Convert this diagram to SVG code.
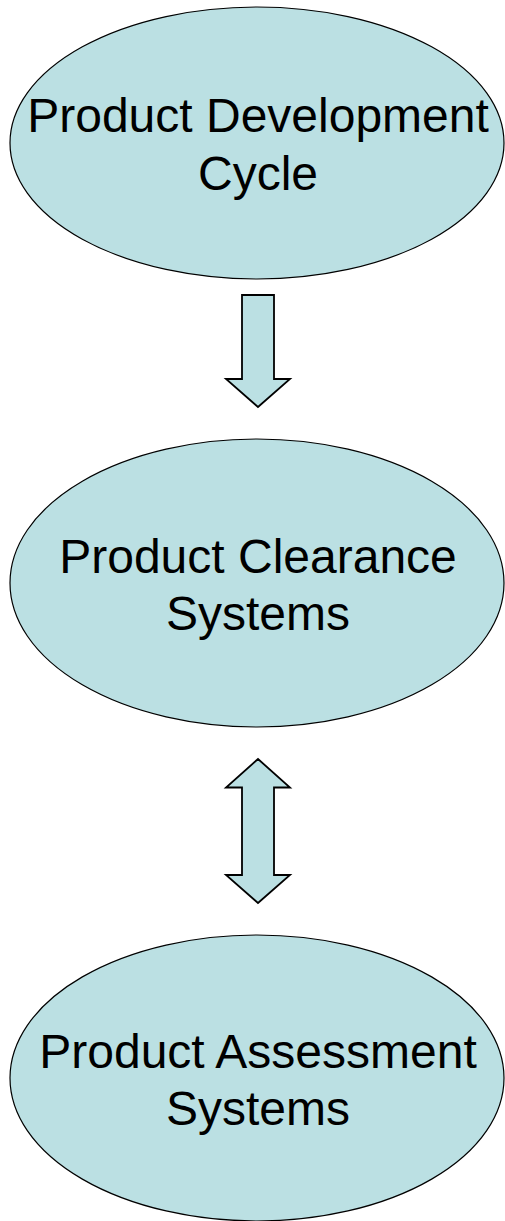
<svg xmlns="http://www.w3.org/2000/svg" width="505" height="1221" viewBox="0 0 505 1221">
  <style>
    .node { fill: #BBE0E3; stroke: #000000; stroke-width: 1.2; }
    .arrow { fill: #BBE0E3; stroke: #000000; stroke-width: 1.8; stroke-linejoin: miter; }
    .label { font-family: "Liberation Sans", Arial, sans-serif; font-size: 48px; fill: #000000; text-anchor: middle; }
  </style>
  <rect x="0" y="0" width="505" height="1221" fill="#FFFFFF"/>

  <g id="connectors">
    <!-- single block arrow: development to clearance -->
    <path class="arrow" d="M242,295 L274,295 L274,379 L290,379 L258,407 L226,379 L242,379 Z"/>
    <!-- double block arrow: clearance and assessment -->
    <path class="arrow" d="M258,759 L290,787.5 L274,787.5 L274,875 L290,875 L258,903 L226,875 L242,875 L242,787.5 L226,787.5 Z"/>
  </g>

  <g id="node-development">
    <ellipse class="node" cx="257" cy="143" rx="247" ry="136"/>
    <text class="label" x="258" y="132">Product Development</text>
    <text class="label" x="258" y="190">Cycle</text>
  </g>

  <g id="node-clearance">
    <ellipse class="node" cx="257" cy="583" rx="247" ry="144"/>
    <text class="label" x="258" y="573">Product Clearance</text>
    <text class="label" x="258" y="630">Systems</text>
  </g>

  <g id="node-assessment">
    <ellipse class="node" cx="257" cy="1078" rx="247" ry="143"/>
    <text class="label" x="258" y="1068">Product Assessment</text>
    <text class="label" x="258" y="1125">Systems</text>
  </g>
</svg>
